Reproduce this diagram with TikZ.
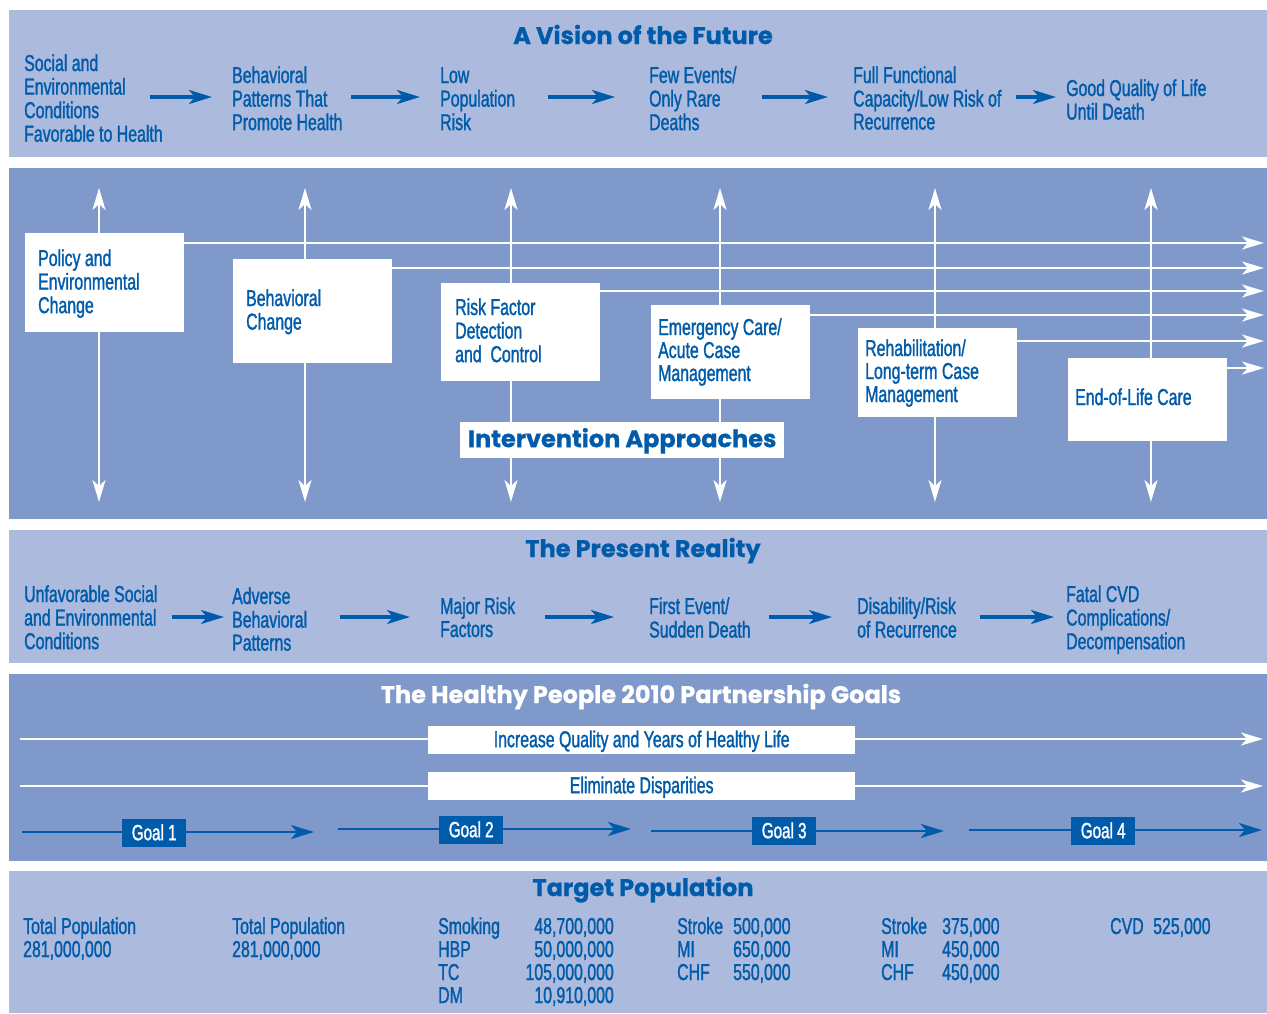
\documentclass[tikz,border=0pt]{standalone}
\usepackage{fontspec}
\usetikzlibrary{arrows.meta}
\newfontfamily\condf{Liberation Sans}[FakeStretch=0.69,FakeBold=1.3]
\newfontfamily\ttlf{Poppins}[FakeBold=0.8]
\definecolor{hpblue}{RGB}{0,91,170}
\definecolor{bandlight}{RGB}{172,186,221}
\definecolor{banddark}{RGB}{127,153,202}
\newcommand{\ml}[1]{\begin{tabular}[t]{@{}l@{}}#1\end{tabular}}
\newcommand{\mr}[1]{\begin{tabular}[t]{@{}r@{}}#1\end{tabular}}
\pgfdeclarelayer{bands}
\pgfdeclarelayer{lines}
\pgfsetlayers{bands,lines,main}
\tikzset{
  txt/.style={font=\condf\fontsize{23}{23}\selectfont, text=hpblue, anchor=base west, inner sep=0pt},
  txtr/.style={txt, anchor=base east},
  ttl/.style={font=\ttlf\bfseries\fontsize{24}{24}\selectfont, text=hpblue, anchor=base, inner sep=0pt},
  bluearrow/.style={draw=hpblue, line width=3.2pt, -{Stealth[length=23pt,width=14pt,inset=6pt]}},
  goalarrow/.style={draw=hpblue, line width=2.6pt, -{Stealth[length=23pt,width=14pt,inset=6pt]}},
  whitearrow/.style={draw=white, line width=2.7pt, -{Stealth[length=22pt,width=13pt,inset=6pt]}},
  whitedbl/.style={draw=white, line width=2.7pt, {Stealth[length=22pt,width=13pt,inset=6pt]}-{Stealth[length=22pt,width=13pt,inset=6pt]}},
  ibox/.style={fill=white, draw=none, inner sep=0pt, anchor=north west, minimum width=159pt},
  linebox/.style={fill=white, draw=none, inner sep=0pt, anchor=north west, minimum width=427pt,
     text height=21pt, text depth=7pt, font=\condf\fontsize{23}{23}\selectfont, text=hpblue},
  goalbox/.style={fill=hpblue, draw=none, inner sep=0pt, anchor=north west, minimum width=64pt,
     text height=21pt, text depth=7pt, font=\condf\fontsize{22}{22}\selectfont, text=white},
}
\begin{document}
\begin{tikzpicture}[x=1pt,y=-1pt]
\useasboundingbox (0,0) rectangle (1267,1013);
\begin{pgfonlayer}{bands}
  \fill[white] (0,0) rectangle (1267,1013);
  \fill[bandlight] (9,10) rectangle (1267,157);
  \fill[banddark] (9,168) rectangle (1267,519);
  \fill[bandlight] (9,530) rectangle (1267,663);
  \fill[banddark] (9,674) rectangle (1267,861);
  \fill[bandlight] (9,871) rectangle (1267,1013);
\end{pgfonlayer}

% ---------------- Band 1: A Vision of the Future
\node[ttl] (vtitle) at (643,44) {A Vision of the Future};
\node[txt] (v1) at (24,71) {\ml{Social and\\Environmental\\Conditions\\Favorable to Health}};
\node[txt] (v2) at (232,83) {\ml{Behavioral\\Patterns That\\Promote Health}};
\node[txt] (v3) at (440,83) {\ml{Low\\Population\\Risk}};
\node[txt] (v4) at (649,83) {\ml{Few Events/\\Only Rare\\Deaths}};
\node[txt] (v5) at (853,83) {\ml{Full Functional\\Capacity/Low Risk of\\Recurrence}};
\node[txt] (v6) at (1066,96) {\ml{Good Quality of Life\\Until Death}};
\coordinate (va1s) at (150,97); \coordinate (va1e) at (212,97);
\coordinate (va2s) at (351,97); \coordinate (va2e) at (420,97);
\coordinate (va3s) at (548,97); \coordinate (va3e) at (615,97);
\coordinate (va4s) at (762,97); \coordinate (va4e) at (828,97);
\coordinate (va5s) at (1016,97); \coordinate (va5e) at (1056,97);
\draw[bluearrow] (va1s) -- (va1e);
\draw[bluearrow] (va2s) -- (va2e);
\draw[bluearrow] (va3s) -- (va3e);
\draw[bluearrow] (va4s) -- (va4e);
\draw[bluearrow] (va5s) -- (va5e);

% ---------------- Band 2: Intervention Approaches
\node[ibox, minimum height=99pt] (pol) at (25,233) {};
\node[ibox, minimum height=104pt] (beh) at (233,259) {};
\node[ibox, minimum height=98pt] (rfd) at (441,283) {};
\node[ibox, minimum height=94pt] (emc) at (651,305) {};
\node[ibox, minimum height=89pt] (reh) at (858,328) {};
\node[ibox, minimum height=83pt] (eol) at (1068,358) {};
\node[fill=white, inner sep=0pt, anchor=north west, minimum width=324pt, text height=25pt, text depth=11pt,
      font=\ttlf\bfseries\fontsize{24}{24}\selectfont, text=hpblue] (iapp) at (460,422) {Intervention Approaches};

\node[txt] (polt) at (38,266) {\ml{Policy and\\Environmental\\Change}};
\node[txt] (beht) at (246,306) {\ml{Behavioral\\Change}};
\node[txt] (rfdt) at (455,315) {\ml{Risk Factor\\Detection\\and~~Control}};
\node[txt] (emct) at (658,335) {\ml{Emergency Care/\\Acute Case\\Management}};
\node[txt] (reht) at (865,356) {\ml{Rehabilitation/\\Long-term Case\\Management}};
\node[txt] (eolt) at (1075,405) {End-of-Life Care};

\coordinate (h1) at (1264,243);
\coordinate (h2) at (1264,268);
\coordinate (h3) at (1264,291);
\coordinate (h4) at (1264,315);
\coordinate (h5) at (1264,341);
\coordinate (h6) at (1264,368);
\foreach \i/\xx in {1/99,2/305,3/511,4/720,5/935,6/1151}{
  \coordinate (vt\i) at (\xx,188);
  \coordinate (vb\i) at (\xx,502);
}
\begin{pgfonlayer}{lines}
  \foreach \i in {1,...,6}{\draw[whitedbl] (vt\i) -- (vb\i);}
  \draw[whitearrow] (pol.east |- h1) -- (h1);
  \draw[whitearrow] (beh.east |- h2) -- (h2);
  \draw[whitearrow] (rfd.east |- h3) -- (h3);
  \draw[whitearrow] (emc.east |- h4) -- (h4);
  \draw[whitearrow] (reh.east |- h5) -- (h5);
  \draw[whitearrow] (eol.east |- h6) -- (h6);
\end{pgfonlayer}

% ---------------- Band 3: The Present Reality
\node[ttl] (ptitle) at (643,557) {The Present Reality};
\node[txt] (p1) at (24,602) {\ml{Unfavorable Social\\and Environmental\\Conditions}};
\node[txt] (p2) at (232,604) {\ml{Adverse\\Behavioral\\Patterns}};
\node[txt] (p3) at (440,614) {\ml{Major Risk\\Factors}};
\node[txt] (p4) at (649,614) {\ml{First Event/\\Sudden Death}};
\node[txt] (p5) at (857,614) {\ml{Disability/Risk\\of Recurrence}};
\node[txt] (p6) at (1066,602) {\ml{Fatal CVD\\Complications/\\Decompensation}};
\coordinate (pa1s) at (172,617); \coordinate (pa1e) at (224,617);
\coordinate (pa2s) at (340,617); \coordinate (pa2e) at (410,617);
\coordinate (pa3s) at (545,617); \coordinate (pa3e) at (614,617);
\coordinate (pa4s) at (769,617); \coordinate (pa4e) at (832,617);
\coordinate (pa5s) at (980,617); \coordinate (pa5e) at (1054,617);
\draw[bluearrow] (pa1s) -- (pa1e);
\draw[bluearrow] (pa2s) -- (pa2e);
\draw[bluearrow] (pa3s) -- (pa3e);
\draw[bluearrow] (pa4s) -- (pa4e);
\draw[bluearrow] (pa5s) -- (pa5e);

% ---------------- Band 4: Partnership Goals
\node[ttl, text=white] (gtitle) at (641,703) {The Healthy People 2010 Partnership Goals};
\node[linebox] (iq) at (428,726) {Increase Quality and Years of Healthy Life};
\node[linebox] (ed) at (428,772) {Eliminate Disparities};
\coordinate (l1s) at (20,739); \coordinate (l1e) at (1263,739);
\coordinate (l2s) at (20,786); \coordinate (l2e) at (1263,786);
\node[goalbox] (g1) at (122,819) {Goal 1};
\node[goalbox] (g2) at (439,816) {Goal 2};
\node[goalbox] (g3) at (752,817) {Goal 3};
\node[goalbox] (g4) at (1071,817) {Goal 4};
\coordinate (g1s) at (22,832); \coordinate (g1e) at (314,832);
\coordinate (g2s) at (338,829); \coordinate (g2e) at (631,829);
\coordinate (g3s) at (651,831); \coordinate (g3e) at (944,831);
\coordinate (g4s) at (969,830); \coordinate (g4e) at (1262,830);
\begin{pgfonlayer}{lines}
  \draw[whitearrow] (l1s) -- (l1e);
  \draw[whitearrow] (l2s) -- (l2e);
  \draw[goalarrow] (g1s) -- (g1e);
  \draw[goalarrow] (g2s) -- (g2e);
  \draw[goalarrow] (g3s) -- (g3e);
  \draw[goalarrow] (g4s) -- (g4e);
\end{pgfonlayer}

% ---------------- Band 5: Target Population
\node[ttl] (ttitle) at (643,896) {Target Population};
\node[txt] (tp1) at (23,934) {\ml{Total Population\\281,000,000}};
\node[txt] (tp2) at (232,934) {\ml{Total Population\\281,000,000}};
\node[txt] (tp3l) at (438,934) {\ml{Smoking\\HBP\\TC\\DM}};
\node[txtr] (tp3n) at (614,934) {\mr{48,700,000\\50,000,000\\105,000,000\\10,910,000}};
\node[txt] (tp4l) at (677,934) {\ml{Stroke\\MI\\CHF}};
\node[txt] (tp4n) at (733,934) {\ml{500,000\\650,000\\550,000}};
\node[txt] (tp5l) at (881,934) {\ml{Stroke\\MI\\CHF}};
\node[txt] (tp5n) at (942,934) {\ml{375,000\\450,000\\450,000}};
\node[txt] (tp6l) at (1110,934) {CVD};
\node[txt] (tp6n) at (1153,934) {525,000};
\end{tikzpicture}
\end{document}
